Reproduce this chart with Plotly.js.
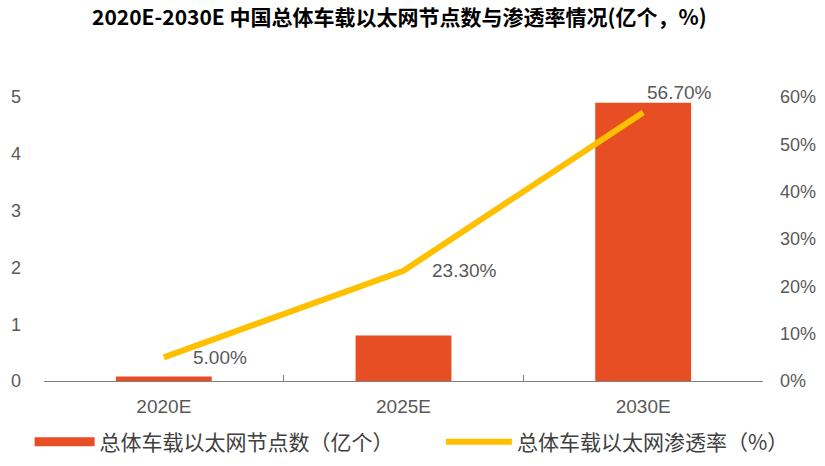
<!DOCTYPE html>
<html>
<head>
<meta charset="utf-8">
<script src="https://cdn.plot.ly/plotly-3.0.1.min.js"></script>
<style>html,body{margin:0;padding:0;background:#fff;}#chart{width:825px;height:466px;}</style>
</head>
<body>
<div id="chart"></div>
<script>
// ---- data ----
const years = ["2020E", "2025E", "2030E"];
const nodeCounts = [0.08, 0.8, 4.9];          // 总体车载以太网节点数（亿个）
const penetration = [5.0, 23.3, 56.7];         // 总体车载以太网渗透率（%）
const penetrationLabels = ["5.00%", "23.30%", "56.70%"];
const leftTicks = [0, 1, 2, 3, 4, 5];
const rightTicks = [0, 10, 20, 30, 40, 50, 60];
const seriesNames = ["总体车载以太网节点数（亿个）", "总体车载以太网渗透率（%）"];

// ---- styles ----
const barColor = "#E84E24";
const lineColor = "#FFC000";
const tickColor = "#595959";
const numFont = "Liberation Sans, Arial, sans-serif";
const cjkFont = "Noto Sans CJK SC, sans-serif";
const labelShiftX = [27, 26, 2];
const labelShiftY = [0, 0, 20];

const traces = [
  {
    type: "bar", x: years, y: nodeCounts, name: seriesNames[0], legendgroup: "bar",
    marker: {color: barColor}, width: 0.4, yaxis: "y", hoverinfo: "skip", showlegend: false
  },
  // legend swatch for the bar series (wide flat bar, as in the reference)
  {
    type: "scatter", mode: "lines", x: [null], y: [null], name: seriesNames[0], legendgroup: "bar",
    line: {color: barColor, width: 9}, yaxis: "y", hoverinfo: "skip", showlegend: true, legend: "legend"
  },
  {
    type: "scatter", mode: "lines", x: years, y: penetration, name: seriesNames[1],
    line: {color: lineColor, width: 6}, yaxis: "y2", hoverinfo: "skip", legend: "legend2"
  }
];

const annotations = years.map((yr, i) => ({
  x: yr, y: penetration[i], xref: "x", yref: "y2",
  text: penetrationLabels[i], showarrow: false,
  xanchor: "left", yanchor: "middle",
  xshift: labelShiftX[i], yshift: labelShiftY[i],
  font: {family: numFont, size: 19, color: tickColor}
}));

const legendFont = {family: cjkFont, size: 21, color: "#404040"};

const layout = {
  width: 825, height: 466,
  margin: {l: 44, r: 62, t: 97, b: 85, autoexpand: false},
  paper_bgcolor: "#fff", plot_bgcolor: "#fff",
  showlegend: true,
  title: {
    text: "<b>2020E-2030E 中国总体车载以太网节点数与渗透率情况(亿个，%)</b>",
    font: {family: cjkFont, size: 21, color: "#000"},
    x: 0.484, xref: "container", xanchor: "center",
    y: 0.962, yref: "container", yanchor: "middle"
  },
  bargap: 0.6,
  xaxis: {
    type: "category", range: [-0.5, 2.5],
    showline: true, linecolor: "#7f7f7f", linewidth: 1,
    ticks: "inside", tickson: "boundaries", ticklen: 6, tickcolor: "#7f7f7f",
    tickfont: {family: numFont, size: 19, color: tickColor},
    ticklabelstandoff: 8,
    showgrid: false, zeroline: false, fixedrange: true
  },
  yaxis: {
    range: [0, 5], tickvals: leftTicks, ticktext: leftTicks.map(String),
    showgrid: false, zeroline: false, showline: false, ticks: "",
    tickfont: {family: numFont, size: 18, color: tickColor},
    ticklabelstandoff: 22, fixedrange: true
  },
  yaxis2: {
    range: [0, 60], overlaying: "y", side: "right",
    tickvals: rightTicks, ticktext: rightTicks.map(v => v + "%"),
    showgrid: false, zeroline: false, showline: false, ticks: "",
    tickfont: {family: numFont, size: 18, color: tickColor},
    ticklabelstandoff: 16, fixedrange: true
  },
  legend: {
    orientation: "h", x: -0.02, xanchor: "left", y: -0.215, yanchor: "middle",
    font: legendFont, itemwidth: 60
  },
  legend2: {
    orientation: "h", x: 0.552, xanchor: "left", y: -0.215, yanchor: "middle",
    font: legendFont, itemwidth: 66
  },
  annotations: annotations
};

Plotly.newPlot("chart", traces, layout, {displayModeBar: false, staticPlot: true});
</script>
</body>
</html>
